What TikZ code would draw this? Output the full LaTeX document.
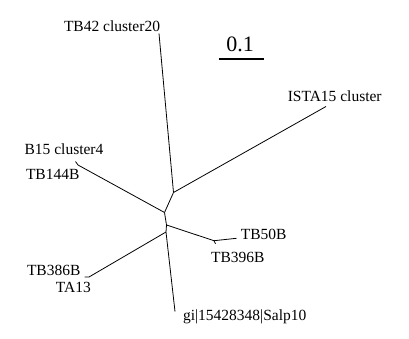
\documentclass[tikz,border=0pt]{standalone}
\usepackage{fontspec}
\setmainfont{Liberation Serif}
\begin{document}
\begin{tikzpicture}[x=1pt,y=-1pt,
  branch/.style={line width=0.8pt,line join=round},
  lbl/.style={anchor=base,inner sep=0pt,font=\fontsize{15.5}{18}\selectfont},
  scalebar/.style={line width=2.6pt}]
\useasboundingbox (0,0) rectangle (409,339);
% internal nodes
\coordinate (A) at (173.5,192.5);
\coordinate (B) at (164.5,212.5);
\coordinate (C) at (166.5,225);
\coordinate (D) at (166,232);
% leaf ends
\coordinate (t42) at (159,33.5);
\coordinate (ista) at (326,106.5);
\coordinate (b15j) at (78,165);
\coordinate (b15) at (75.5,161.5);
\coordinate (tb50j) at (214,240.7);
\coordinate (tb50) at (236.5,238.3);
\coordinate (tb396) at (215.5,243.8);
\coordinate (tb386j) at (89,277);
\coordinate (tb386) at (84.5,277);
\coordinate (salp) at (175,311.5);
% branches
\draw[branch] (t42) -- (A);
\draw[branch] (ista) -- (A);
\draw[branch] (A) -- (B);
\draw[branch] (B) -- (b15j) -- (b15);
\draw[branch] (B) -- (C);
\draw[branch] (C) -- (tb50j) -- (tb50);
\draw[branch] (tb50j) -- (tb396);
\draw[branch] (C) -- (D);
\draw[branch] (D) -- (tb386j) -- (tb386);
\draw[branch] (D) -- (salp);
% labels
\node[lbl] (l42) at (112,31.7) {TB42 cluster20};
\node[lbl] (lista) at (334.7,101.7) {ISTA15 cluster};
\node[lbl] (lb15) at (64,154) {B15 cluster4};
\node[lbl] (l144) at (52.7,179) {TB144B};
\node[lbl] (l50) at (263.7,239.3) {TB50B};
\node[lbl] (l396) at (237.8,262.7) {TB396B};
\node[lbl] (l386) at (53.7,275) {TB386B};
\node[lbl] (la13) at (73.3,292.3) {TA13};
\node[lbl] (lsalp) at (244.7,320) {gi|15428348|Salp10};
% scale
\node[anchor=base,inner sep=0pt,font=\fontsize{22}{26}\selectfont] (scl) at (240,51.7) {0.1};
\coordinate (s1) at (218.5,59);
\coordinate (s2) at (263.5,59);
\draw[scalebar] (s1) -- (s2);
\end{tikzpicture}
\end{document}
